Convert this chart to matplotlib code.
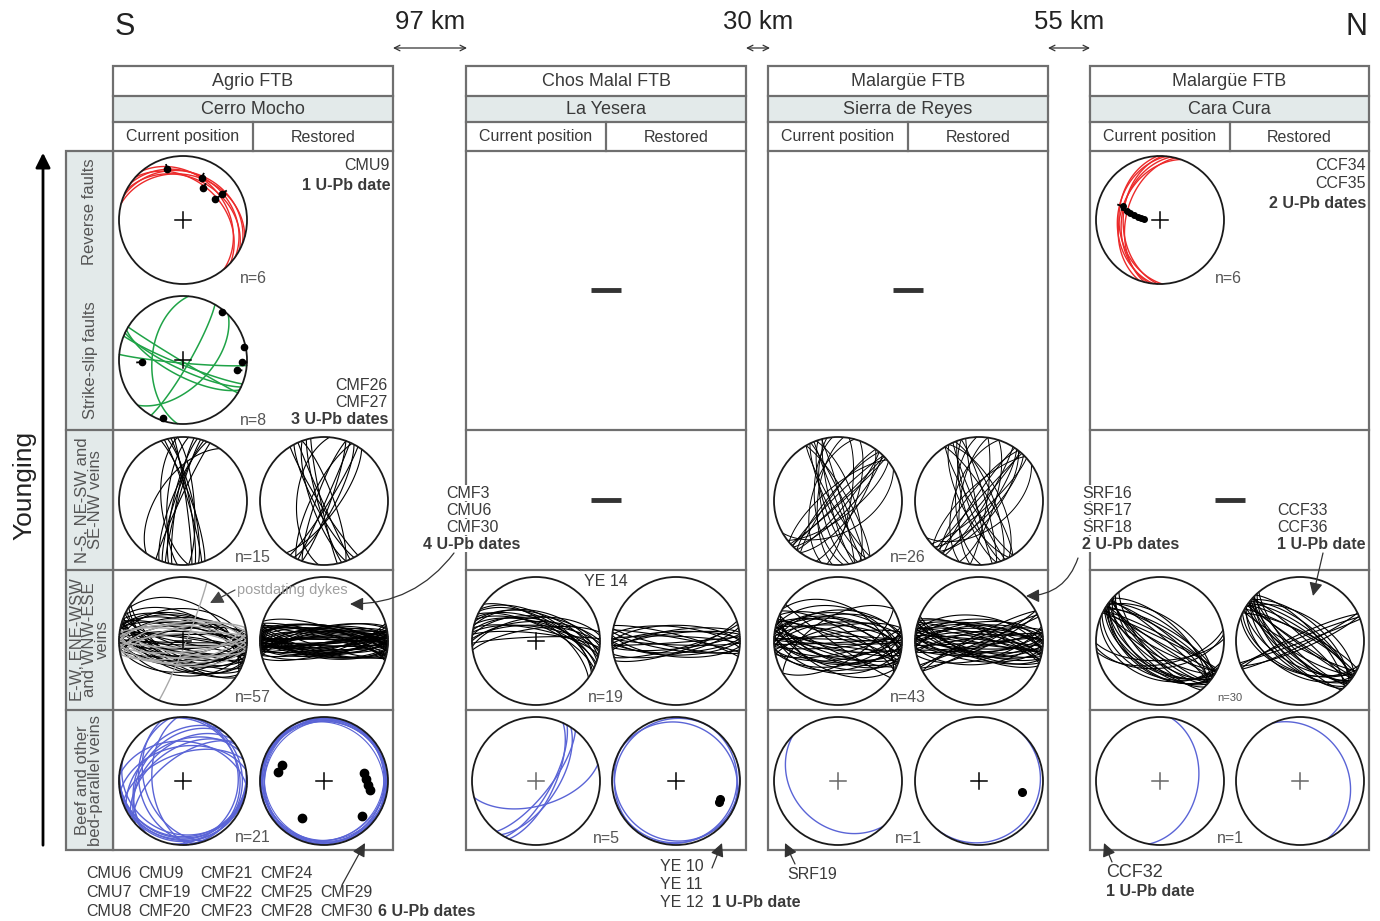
import numpy as np
import matplotlib
matplotlib.use("Agg")
import matplotlib.pyplot as plt
from matplotlib.patches import Rectangle, Circle

plt.rcParams["font.family"] = ["Liberation Sans", "DejaVu Sans"]

# ---------------- data: planes as strike / dip (right-hand rule), lineations as trend / plunge
# Cerro Mocho (Agrio FTB)
cm_rev_strike = [285, 292, 298, 305, 312, 320]
cm_rev_dip = [30, 26, 34, 28, 38, 32]
cm_rev_lin_trend = [343, 24, 32, 57, 56]
cm_rev_lin_plunge = [18, 29, 41, 40, 27]

cm_ss_strike = [112, 115, 118, 121, 95, 185, 30, 45]
cm_ss_dip = [84, 78, 70, 88, 86, 50, 82, 55]
cm_ss_lin_trend = [39, 78, 92, 267, 199, 100]
cm_ss_lin_plunge = [3, 2, 8, 36, 5, 15]

cm_ns_cur_strike = [340, 343, 346, 349, 352, 355, 190, 193, 196, 199, 202, 205, 175, 185, 215]
cm_ns_cur_dip = [80, 84, 78, 82, 86, 76, 82, 78, 84, 80, 76, 86, 62, 70, 58]
cm_ns_res_strike = [148, 152, 156, 160, 164, 168, 20, 24, 28, 32, 36, 200, 206, 340, 185]
cm_ns_res_dip = [84, 78, 88, 74, 82, 86, 82, 88, 76, 84, 72, 80, 74, 78, 55]

cm_ew_cur_strike = [82, 86, 88, 90, 92, 94, 96, 98, 100, 102, 104, 106, 108, 110, 112, 115, 118, 122,
                    262, 265, 268, 270, 272, 274, 276, 278, 280, 282, 285, 288, 290, 294,
                    84, 91, 97, 103, 109, 271, 277, 283, 125, 300]
cm_ew_cur_dip = [72, 65, 80, 58, 85, 70, 62, 76, 68, 88, 60, 74, 66, 82, 55, 70, 64, 60,
                 75, 68, 82, 60, 78, 66, 72, 86, 58, 70, 64, 76, 62, 55,
                 50, 88, 45, 80, 52, 48, 84, 56, 66, 40]
cm_dyke_strike = [78, 82, 85, 88, 90, 93, 96, 99, 258, 262, 266, 270, 274, 278, 22]
cm_dyke_dip = [70, 64, 76, 60, 82, 68, 58, 74, 72, 66, 80, 62, 70, 76, 86]
cm_ew_res_strike = [81, 84, 86, 79, 88, 90, 83, 92, 95, 87, 98, 85, 91, 94, 100, 82, 89, 96, 77, 93,
                    102, 86, 97, 80, 104, 90, 84, 263, 266, 270, 259, 273, 268, 276, 262, 279, 271,
                    265, 282, 274, 268, 261, 277, 284, 270, 264, 280, 272, 257, 286, 267, 275, 283,
                    278, 106, 74, 288]
cm_ew_res_dip = [80, 74, 86, 70, 88, 78, 72, 84, 76, 82, 70, 86, 74, 80, 72, 88, 76, 70, 78, 84,
                 74, 82, 68, 86, 76, 72, 88, 80, 74, 86, 72, 78, 84, 70, 82, 76, 88, 72, 80, 74,
                 86, 78, 70, 82, 76, 84, 72, 88, 74, 80, 78, 70, 86, 76, 82, 74, 72]
cm_beef_cur_strike = [220, 228, 235, 242, 250, 215, 232, 160, 168, 175,
                      80, 90, 100, 110, 95, 85, 350, 0, 10, 260, 275]
cm_beef_cur_dip = [35, 42, 48, 38, 55, 30, 60, 40, 32, 50,
                   10, 14, 8, 18, 12, 6, 12, 8, 15, 45, 38]
cm_beef_res_strike = [30, 95, 160, 220, 280, 340, 60, 130, 190, 250, 310, 10, 75, 145, 205,
                      265, 325, 45, 115, 235, 295]
cm_beef_res_dip = [6, 8, 5, 10, 7, 4, 9, 6, 8, 5, 11, 7, 4, 9, 6, 8, 5, 10, 7, 4, 6]
cm_beef_lin_trend = [291, 281, 79, 87, 95, 101, 211, 133]
cm_beef_lin_plunge = [30, 27, 36, 34, 31, 27, 33, 20]

# La Yesera (Chos Malal FTB)
ly_ew_cur_strike = [265, 270, 272, 275, 278, 280, 282, 285, 288, 290, 292, 295, 298, 300,
                    268, 276, 284, 262, 305]
ly_ew_cur_dip = [60, 65, 70, 58, 72, 62, 75, 66, 55, 68, 63, 70, 60, 57, 85, 80, 52, 74, 64]
ly_ew_res_strike = [84, 88, 92, 95, 98, 86, 90, 101, 75, 72, 268, 272, 276, 264, 280, 270, 262, 284, 78]
ly_ew_res_dip = [80, 75, 85, 70, 78, 88, 72, 82, 80, 76, 78, 84, 72, 80, 86, 70, 76, 82, 74]
ly_beef_cur_strike = [25, 29, 33, 75, 38]
ly_beef_cur_dip = [66, 70, 62, 58, 72]
ly_beef_res_strike = [30, 120, 210, 300, 75]
ly_beef_res_dip = [6, 8, 5, 10, 4]
ly_beef_lin_trend = [112, 116]
ly_beef_lin_plunge = [26, 27]

# Sierra de Reyes (Malargue FTB)
sr_ns_cur_strike = [40, 44, 48, 52, 36, 46, 220, 225, 230, 216, 150, 154, 158, 162, 166, 170,
                    330, 335, 340, 345, 175, 185, 195, 10, 20, 60]
sr_ns_cur_dip = [80, 74, 86, 70, 66, 88, 78, 84, 72, 80, 82, 76, 88, 72, 80, 68,
                 78, 84, 70, 86, 60, 64, 56, 74, 68, 50]
sr_ns_res_strike = [32, 36, 40, 44, 48, 38, 214, 218, 222, 226, 148, 152, 156, 160, 164, 168,
                    328, 332, 338, 344, 178, 188, 198, 8, 18, 55]
sr_ns_res_dip = [82, 74, 86, 70, 78, 66, 84, 76, 88, 72, 80, 68, 84, 76, 70, 86,
                 78, 64, 72, 82, 60, 66, 58, 80, 70, 52]
sr_ew_cur_strike = [78, 82, 85, 88, 91, 94, 97, 100, 103, 106, 110, 114, 80, 87, 93, 99, 105,
                    258, 262, 266, 270, 274, 278, 282, 286, 290, 294, 298, 264, 272, 280, 288,
                    84, 96, 108, 268, 276, 284, 125, 60, 240, 300, 115]
sr_ew_cur_dip = [74, 66, 82, 70, 86, 62, 78, 68, 80, 72, 64, 76, 58, 88, 60, 84, 56,
                 72, 80, 66, 84, 70, 62, 78, 68, 86, 64, 74, 56, 88, 60, 82,
                 52, 48, 66, 50, 54, 46, 85, 62, 58, 44, 50]
sr_ew_res_strike = [80, 83, 86, 89, 92, 95, 98, 101, 104, 107, 82, 88, 94, 100, 106, 77, 110,
                    260, 263, 266, 269, 272, 275, 278, 281, 284, 287, 290, 264, 270, 276, 282, 288,
                    62, 65, 68, 242, 246, 85, 97, 271, 279, 113]
sr_ew_res_dip = [82, 74, 88, 70, 80, 76, 86, 72, 78, 68, 84, 76, 70, 88, 74, 66, 72,
                 78, 86, 70, 82, 74, 88, 68, 80, 72, 84, 76, 66, 78, 70, 86, 74,
                 84, 80, 88, 82, 86, 60, 64, 62, 58, 70]
sr_beef_cur_strike = [135]
sr_beef_cur_dip = [30]
sr_beef_res_strike = [40]
sr_beef_res_dip = [6]
sr_beef_lin_trend = [104]
sr_beef_lin_plunge = [31]

# Cara Cura (Malargue FTB)
cc_rev_strike = [178, 182, 186, 190, 194, 199]
cc_rev_dip = [36, 42, 34, 40, 46, 38]
cc_rev_lin_trend = [290, 283, 280, 278, 285, 276, 274]
cc_rev_lin_plunge = [38, 50, 56, 62, 45, 66, 70]
cc_ew_cur_strike = [118, 121, 124, 127, 130, 133, 136, 122, 128, 119, 125, 131, 298, 302, 306,
                    310, 300, 304, 308, 296, 312, 115, 120, 126, 132, 80, 84, 88, 140, 110]
cc_ew_cur_dip = [80, 72, 86, 66, 78, 70, 62, 55, 50, 88, 58, 74, 82, 76, 68, 84, 72, 60, 78, 86,
                 64, 45, 52, 48, 56, 60, 55, 65, 70, 40]
cc_ew_res_strike = [118, 122, 126, 130, 134, 120, 128, 124, 132, 138, 300, 304, 308, 312, 302,
                    306, 310, 296, 316, 116, 123, 129, 135, 64, 67, 70, 245, 248, 140, 112]
cc_ew_res_dip = [82, 74, 86, 70, 78, 60, 66, 88, 72, 64, 80, 76, 68, 84, 58, 72, 62, 78, 70, 52,
                 48, 56, 60, 84, 80, 88, 82, 86, 74, 50]
cc_beef_cur_strike = [10]
cc_beef_cur_dip = [40]
cc_beef_res_strike = [335]
cc_beef_res_dip = [25]

# ---------------- layout (pixel space)
W, H = 1380, 921
R = 64
col_x = [(113, 393), (466, 746), (768, 1048), (1090, 1369)]
col_mid = [253, 606, 908, 1230]
net_x = [(183, 324), (536, 676), (838, 979), (1160, 1300)]
row_y = {"rev": 220, "ss": 360, "ns": 501, "ew": 641, "beef": 781}
edge = "#6f6f6f"
panel_fill = "#e3eaea"
txt = "#3a3a3a"
red, green, blue, grey = "#ec2a2a", "#1fa347", "#5a64d6", "#a9a9a9"

fig = plt.figure(figsize=(13.8, 9.21), dpi=100)
ax = fig.add_axes([0, 0, 1, 1])
ax.set_xlim(0, W)
ax.set_ylim(H, 0)
ax.axis("off")


def project(trend, plunge, cx, cy):
    rho = R * np.sqrt(2) * np.sin((np.pi / 2 - plunge) / 2)
    return cx + rho * np.sin(trend), cy - rho * np.cos(trend)


def great_circle(cx, cy, strike, dip, color="black", lw=0.8, z=3):
    s = np.radians(strike)
    d = np.radians(dip)
    dd = s + np.pi / 2
    t = np.linspace(0, np.pi, 121)
    e = np.cos(t) * np.sin(s) + np.sin(t) * np.cos(d) * np.sin(dd)
    n = np.cos(t) * np.cos(s) + np.sin(t) * np.cos(d) * np.cos(dd)
    zz = np.sin(t) * np.sin(d)
    x, y = project(np.arctan2(e, n), np.arcsin(np.clip(zz, -1, 1)), cx, cy)
    ax.plot(x, y, color=color, lw=lw, solid_capstyle="round", zorder=z)


def net(cx, cy, strikes=(), dips=(), color="black", lw=0.8, cross=True, cross_c="black"):
    for s, d in zip(strikes, dips):
        great_circle(cx, cy, s, d, color, lw)
    ax.add_patch(Circle((cx, cy), R, fill=False, ec="#1a1a1a", lw=1.3, zorder=5))
    if cross:
        ax.plot([cx - 8, cx + 8], [cy, cy], color=cross_c, lw=1.1, zorder=6)
        ax.plot([cx, cx], [cy - 8, cy + 8], color=cross_c, lw=1.1, zorder=6)


def lineations(cx, cy, trends, plunges, size=4.5, tick=True):
    for tr, pl in zip(trends, plunges):
        x, y = project(np.radians(tr), np.radians(pl), cx, cy)
        if tick:
            x2, y2 = project(np.radians(tr), np.radians(max(pl - 7, 0)), cx, cy)
            ax.plot([x, x2], [y, y2], color="black", lw=1.3, zorder=7)
        ax.plot(x, y, "o", color="black", ms=size, zorder=7)


# ---------------- frames and headers
headers = [("Agrio FTB", "Cerro Mocho"), ("Chos Malal FTB", "La Yesera"),
           ("Malargüe FTB", "Sierra de Reyes"), ("Malargüe FTB", "Cara Cura")]
for (x0, x1), xm, (h1, h2) in zip(col_x, col_mid, headers):
    ax.add_patch(Rectangle((x0, 96), x1 - x0, 26, fc=panel_fill, ec="none", zorder=1))
    ax.add_patch(Rectangle((x0, 66), x1 - x0, 850 - 66, fill=False, ec=edge, lw=1.6, zorder=8))
    for y in (96, 122, 151, 430, 570, 710):
        ax.plot([x0, x1], [y, y], color=edge, lw=1.6, zorder=8)
    ax.plot([xm, xm], [122, 151], color=edge, lw=1.6, zorder=8)
    xc = (x0 + x1) / 2
    ax.text(xc, 81, h1, ha="center", va="center", fontsize=13, color=txt)
    ax.text(xc, 109, h2, ha="center", va="center", fontsize=13, color=txt)
    ax.text((x0 + xm) / 2, 137, "Current position", ha="center", va="center", fontsize=11.5, color=txt)
    ax.text((xm + x1) / 2, 137, "Restored", ha="center", va="center", fontsize=11.5, color=txt)

# left label column
ax.add_patch(Rectangle((66, 151), 47, 850 - 151, fc=panel_fill, ec=edge, lw=1.6, zorder=8))
for y in (430, 570, 710):
    ax.plot([66, 113], [y, y], color=edge, lw=1.6, zorder=8)
row_labels = [(90, 212, "Reverse faults"), (90, 360, "Strike-slip faults"),
              (89, 500, "N-S, NE-SW and\nSE-NW veins"), (90, 640, "E-W, ENE-WSW\nand WNW-ESE\nveins"),
              (89, 780, "Beef and other\nbed-parallel veins")]
for x, y, s in row_labels:
    ax.text(x, y, s, rotation=90, ha="center", va="center", fontsize=12, color="#555555",
            linespacing=0.8, zorder=9)

# Younging arrow and title letters
ax.annotate("", xy=(43, 150), xytext=(43, 848),
            arrowprops=dict(arrowstyle="-|>", color="black", lw=2, mutation_scale=22))
ax.text(24, 485, "Younging", rotation=90, ha="center", va="center", fontsize=19, color="#222222")
ax.text(125, 27, "S", ha="center", va="center", fontsize=22, color="#222222")
ax.text(1357, 27, "N", ha="center", va="center", fontsize=22, color="#222222")
for xa, xb, lab in [(393, 467, "97 km"), (746, 770, "30 km"), (1048, 1090, "55 km")]:
    ax.annotate("", xy=(xa, 48), xytext=(xb, 48),
                arrowprops=dict(arrowstyle="<->", color="#333333", lw=0.9, mutation_scale=10,
                                shrinkA=0, shrinkB=0))
    ax.text((xa + xb) / 2, 22, lab, ha="center", va="center", fontsize=18.5, color="#222222")

# ---------------- stereonets
cx0, cx1 = net_x[0]
net(cx0, row_y["rev"], cm_rev_strike, cm_rev_dip, red, 1.0)
lineations(cx0, row_y["rev"], cm_rev_lin_trend, cm_rev_lin_plunge)
net(cx0, row_y["ss"], cm_ss_strike, cm_ss_dip, green, 1.1)
lineations(cx0, row_y["ss"], cm_ss_lin_trend, cm_ss_lin_plunge)
net(cx0, row_y["ns"], cm_ns_cur_strike, cm_ns_cur_dip, cross=False)
net(cx1, row_y["ns"], cm_ns_res_strike, cm_ns_res_dip, cross=False)
net(cx0, row_y["ew"], cm_ew_cur_strike, cm_ew_cur_dip)
for s, d in zip(cm_dyke_strike, cm_dyke_dip):
    great_circle(cx0, row_y["ew"], s, d, grey, 1.0, z=4)
net(cx1, row_y["ew"], cm_ew_res_strike, cm_ew_res_dip, cross=False)
net(cx0, row_y["beef"], cm_beef_cur_strike, cm_beef_cur_dip, blue, 1.0)
net(cx1, row_y["beef"], cm_beef_res_strike, cm_beef_res_dip, blue, 0.8)
lineations(cx1, row_y["beef"], cm_beef_lin_trend, cm_beef_lin_plunge, size=6, tick=False)

cx0, cx1 = net_x[1]
net(cx0, row_y["ew"], ly_ew_cur_strike, ly_ew_cur_dip)
net(cx1, row_y["ew"], ly_ew_res_strike, ly_ew_res_dip, cross=False)
net(cx0, row_y["beef"], ly_beef_cur_strike, ly_beef_cur_dip, blue, 1.0, cross_c="#666666")
net(cx1, row_y["beef"], ly_beef_res_strike, ly_beef_res_dip, blue, 1.0)
lineations(cx1, row_y["beef"], ly_beef_lin_trend, ly_beef_lin_plunge, size=5.5, tick=False)

cx0, cx1 = net_x[2]
net(cx0, row_y["ns"], sr_ns_cur_strike, sr_ns_cur_dip, lw=0.7, cross=False)
net(cx1, row_y["ns"], sr_ns_res_strike, sr_ns_res_dip, lw=0.7, cross=False)
net(cx0, row_y["ew"], sr_ew_cur_strike, sr_ew_cur_dip, cross=False)
net(cx1, row_y["ew"], sr_ew_res_strike, sr_ew_res_dip, cross=False)
net(cx0, row_y["beef"], sr_beef_cur_strike, sr_beef_cur_dip, blue, 1.0, cross_c="#666666")
net(cx1, row_y["beef"], sr_beef_res_strike, sr_beef_res_dip, blue, 1.0)
lineations(cx1, row_y["beef"], sr_beef_lin_trend, sr_beef_lin_plunge, size=5.5, tick=False)

cx0, cx1 = net_x[3]
net(cx0, row_y["rev"], cc_rev_strike, cc_rev_dip, red, 1.0)
lineations(cx0, row_y["rev"], cc_rev_lin_trend, cc_rev_lin_plunge, size=4)
net(cx0, row_y["ew"], cc_ew_cur_strike, cc_ew_cur_dip, cross=False)
net(cx1, row_y["ew"], cc_ew_res_strike, cc_ew_res_dip, cross=False)
net(cx0, row_y["beef"], cc_beef_cur_strike, cc_beef_cur_dip, blue, 1.0, cross_c="#666666")
net(cx1, row_y["beef"], cc_beef_res_strike, cc_beef_res_dip, blue, 1.0, cross_c="#666666")

# empty cells
for x, y in [(606, 290), (908, 290), (606, 500), (1230, 500)]:
    ax.plot([x - 15, x + 15], [y, y], color="#333333", lw=3.5, solid_capstyle="butt")

# ---------------- n labels and sample text
nlab = [(253, 278, "n=6"), (253, 420, "n=8"), (253, 557, "n=15"), (253, 697, "n=57"),
        (253, 837, "n=21"), (606, 697, "n=19"), (606, 838, "n=5"), (908, 557, "n=26"),
        (908, 697, "n=43"), (908, 838, "n=1"), (1228, 278, "n=6"), (1230, 838, "n=1")]
for x, y, s in nlab:
    ax.text(x, y, s, ha="center", va="center", fontsize=11.5, color="#555555", zorder=9)
ax.text(1230, 698, "n=30", ha="center", va="center", fontsize=8, color="#555555", zorder=9)
ax.text(606, 581, "YE 14", ha="center", va="center", fontsize=11.5, color=txt, zorder=9)


def block(x, y, lines, bold_last=True, ha="right", dy=17.5, fs=11.5, bg=False):
    for i, s in enumerate(lines):
        b = bold_last and i == len(lines) - 1
        kw = dict(facecolor="white", edgecolor="none", pad=0.5) if bg else None
        ax.text(x, y + i * dy, s, ha=ha, va="center", fontsize=fs, color=txt,
                fontweight="bold" if b else "normal", bbox=kw, zorder=10)


block(390, 166, ["CMU9", "1 U-Pb date"], dy=19)
block(388, 385, ["CMF26", "CMF27", "3 U-Pb dates"], dy=17)
block(1366, 165, ["CCF34", "CCF35", "2 U-Pb dates"], dy=19)
block(446, 493, ["CMF3", "CMU6", "CMF30"], bold_last=False, ha="left", dy=17, bg=True)
ax.text(472, 544, "4 U-Pb dates", ha="center", va="center", fontsize=11.5, fontweight="bold",
        color=txt, zorder=10, bbox=dict(facecolor="white", edgecolor="none", pad=0.5))
block(1082, 493, ["SRF16", "SRF17", "SRF18", "2 U-Pb dates"], ha="left", dy=17, bg=True)
block(1277, 510, ["CCF33", "CCF36", "1 U-Pb date"], ha="left", dy=17, bg=True)

# bottom sample lists
bottom_cols = [(86, ["CMU6", "CMU7", "CMU8"]), (138, ["CMU9", "CMF19", "CMF20"]),
               (200, ["CMF21", "CMF22", "CMF23"]), (260, ["CMF24", "CMF25", "CMF28"]),
               (320, ["", "CMF29", "CMF30"])]
for x, col in bottom_cols:
    block(x, 873, col, bold_last=False, ha="left", dy=19)
ax.text(378, 911, "6 U-Pb dates", ha="left", va="center", fontsize=11.5, fontweight="bold", color=txt)
block(660, 866, ["YE 10", "YE 11", "YE 12"], bold_last=False, ha="left", dy=18)
ax.text(712, 902, "1 U-Pb date", ha="left", va="center", fontsize=11.5, fontweight="bold", color=txt)
ax.text(787, 874, "SRF19", ha="left", va="center", fontsize=11.5, color=txt)
ax.text(1106, 872, "CCF32", ha="left", va="center", fontsize=13, color=txt)
ax.text(1106, 891, "1 U-Pb date", ha="left", va="center", fontsize=11.5, fontweight="bold", color=txt)

# ---------------- pointer arrows
ap = dict(arrowstyle="-|>", color="#333333", lw=0.9, mutation_scale=20, shrinkA=0, shrinkB=0)
ax.text(237, 590, "postdating dykes", ha="left", va="center", fontsize=10.5, color="#a0a0a0", zorder=10)
ax.annotate("", xy=(210, 603), xytext=(235, 590),
            arrowprops=dict(ap, color="#444444", connectionstyle="arc3,rad=0"), zorder=11)
pointers = [((350, 604), (454, 553), "arc3,rad=-0.25"),
            ((1026, 596), (1078, 558), "arc3,rad=-0.35"),
            ((1313, 596), (1323, 553), "arc3,rad=0"),
            ((365, 843), (342, 885), "arc3,rad=0"),
            ((722, 843), (712, 868), "arc3,rad=0"),
            ((785, 843), (795, 864), "arc3,rad=0"),
            ((1104, 843), (1112, 862), "arc3,rad=0")]
for tip, tail, cs in pointers:
    ax.annotate("", xy=tip, xytext=tail, arrowprops=dict(ap, connectionstyle=cs), zorder=11)

fig.savefig("out.png", dpi=100, facecolor="white")
